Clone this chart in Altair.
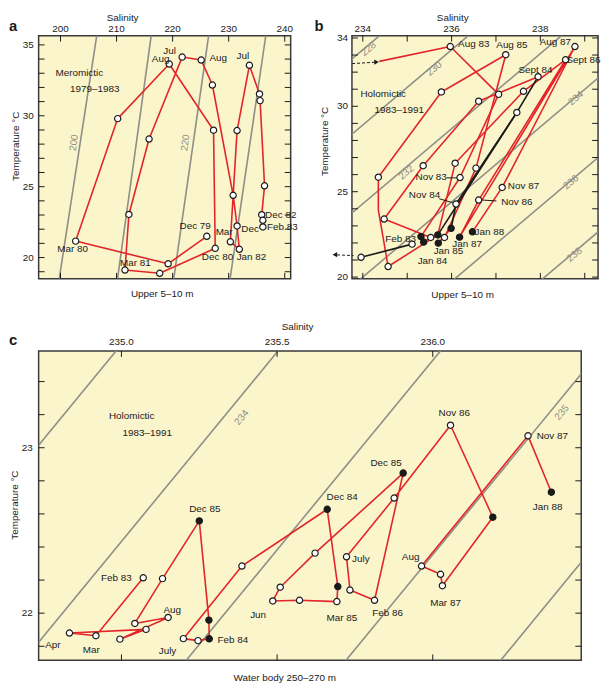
import altair as alt
import pandas as pd

FONT = "Liberation Sans"
FS = 10
RED = "#e3242b"
GREY = "#8e8e86"
INK = "#1a1a1a"
BG = "#fbf5cb"

# ---------------- panel a : upper 5-10 m, meromictic ----------------
A_S = [226.1, 219.2, 202.7, 210.2, 219.4, 227.3, 227.6, 217.7, 211.5, 212.2, 215.8,
       221.7, 225.1, 227.1, 230.8, 231.5, 231.9, 230.3, 231.5, 233.7, 235.5, 235.6,
       236.4, 235.9, 236.1, 236.1]
A_T = [21.5, 19.56, 21.16, 29.8, 33.65, 28.98, 20.65, 18.89, 19.12, 23.04, 28.36,
       34.14, 33.93, 32.17, 24.39, 22.23, 20.58, 21.11, 28.96, 33.56, 31.54, 31.07,
       25.06, 23.02, 22.63, 22.16]
A_LABELS = ["Jul", "Aug", "Aug", "Jul", "Dec 79", "Mar 80", "Mar 81", "Dec 80", "Jan 82",
            "Mar", "Dec", "Dec 82", "Feb 83", "Meromictic", "1979\u20131983"]
A_LABEL_S = [219.45, 217.86, 228.14, 232.54, 224.03, 202.18, 213.34, 228.01, 234.07,
             229.19, 233.83, 239.29, 239.59, 203.35, 206.11]
A_LABEL_T = [34.6, 34.03, 34.09, 34.19, 22.23, 20.63, 19.58, 20.03, 20.03,
             21.77, 22.02, 23.02, 22.16, 33.05, 31.87]
A_ISO_S_LOW = [199.77, 210.17, 220.2, 230.25]
A_ISO_S_HIGH = [206.6, 216.3, 226.55, 236.75]
A_ISO_T = [18.5, 36.0]
A_ISO_LABELS = ["200", "220"]
A_ISO_LABEL_S = [202.4, 222.27]
A_ISO_LABEL_T = [28.1, 28.1]
A_XTICKS = [200, 210, 220, 230, 240]
A_YTICKS = [19, 20, 21, 22, 23, 24, 25, 26, 27, 28, 29, 30, 31, 32, 33, 34, 35]
A_YLABELS = [20, 25, 30, 35]

# ---------------- panel b : upper 5-10 m, holomictic ----------------
B_S = [234.37, 235.97, 237.06, 236.19, 235.31, 235.37, 235.53, 234.48, 235.36, 236.61, 237.95,
       237.47, 236.10, 235.99, 235.70, 235.84, 236.55, 237.22, 235.77, 234.35, 234.35,
       234.57, 235.69, 236.08, 237.62, 238.57, 236.61, 236.18, 238.78, 237.14, 236.47,
       235.11, 233.96]
B_T = [32.63, 33.50, 30.70, 25.83, 22.37, 22.05, 22.32, 23.40, 26.52, 30.30, 31.73,
       29.64, 24.28, 22.86, 21.99, 22.32, 26.38, 33.02, 30.84, 25.85, 23.92,
       20.62, 22.47, 26.67, 30.88, 32.73, 24.51, 22.34, 33.50, 25.25, 22.65,
       21.93, 21.16]
B_MARK = ["none", "open", "open", "open", "filled", "filled", "open", "open", "open", "open", "open",
          "open", "open", "filled", "filled", "open", "open", "open", "open", "open", "none",
          "open", "filled", "open", "open", "open", "open", "filled", "open", "open", "filled",
          "open", "open"]
B_RED_PATHS = [[0, 1, 2, 3, 4, 5, 6, 7, 8, 9, 10],
               [13, 14, 15, 16, 17, 18, 19, 20, 21, 22, 23, 24, 25, 26, 27, 28, 29, 30]]
B_BLACK_PATHS = [[10, 11, 12, 13], [11, 22], [31, 32]]
B_LABELS = ["Aug 83", "Aug 85", "Aug 87", "Sept 86", "Sept 84", "Holomictic", "1983\u20131991",
            "Nov 83", "Nov 84", "Nov 87", "Nov 86", "Jan 88", "Feb 83", "Jan 87", "Jan 85", "Jan 84"]
B_LABEL_S = [236.50, 237.36, 238.34, 238.97, 237.89, 234.46, 234.82,
             235.54, 235.39, 237.62, 237.47, 236.85, 234.85, 236.35, 235.93, 235.57]
B_LABEL_T = [33.65, 33.56, 33.75, 32.69, 32.15, 30.72, 29.80,
             25.84, 24.78, 25.31, 24.40, 22.66, 22.24, 21.93, 21.51, 20.93]
B_CONN_S = [[235.886, 236.146], [235.72, 236.02], [236.70, 237.01]]
B_CONN_T = [[25.81, 25.81], [24.59, 24.36], [24.51, 24.46]]
B_ARROW_S = [[233.76, 234.28], [233.79, 233.42]]
B_ARROW_T = [[32.50, 32.58], [21.26, 21.30]]
B_HEAD_S = [234.31, 233.37]
B_HEAD_T = [32.59, 21.31]
B_HEAD_SHAPE = ["triangle-right", "triangle-left"]
B_ISO_S_LOW = [227.72, 229.72, 231.82, 233.77, 235.89, 237.87]
B_ISO_S_HIGH = [234.77, 236.77, 238.87, 240.82, 242.94, 244.92]
B_ISO_T = [19.5, 35.0]
B_ISO_LABELS = ["228", "230", "232", "234", "236", "238"]
B_ISO_LABEL_S = [234.13, 235.61, 234.98, 238.80, 238.69, 238.77]
B_ISO_LABEL_T = [33.36, 32.20, 26.13, 30.47, 25.56, 21.31]
B_XTICKS = [234, 235, 236, 237, 238, 239]
B_XLABELS = [234, 236, 238]
B_YTICKS = [20, 21, 22, 23, 24, 25, 26, 27, 28, 29, 30, 31, 32, 33, 34]
B_YLABELS = [20, 25, 30, 34]

# ---------------- panel c : water body 250-270 m ----------------
C_S = [235.070, 234.918, 234.833, 235.079, 234.995, 235.150, 235.043, 235.132, 235.250,
       235.281, 235.282, 235.246, 235.199, 235.387, 235.661, 235.695, 235.692, 235.572,
       235.486, 235.510, 235.622, 235.905, 235.813, 235.734, 235.723, 235.876, 236.057,
       236.193, 236.031, 236.025, 235.964, 236.306, 236.381]
C_T = [22.214, 21.864, 21.880, 21.902, 21.843, 21.974, 21.938, 22.209, 22.558,
       21.958, 21.845, 21.834, 21.846, 22.285, 22.628, 22.161, 22.070, 22.078,
       22.074, 22.157, 22.363, 22.847, 22.078, 22.140, 22.341, 22.696, 23.136,
       22.580, 22.166, 22.235, 22.285, 23.072, 22.731]
C_MARK = ["open", "open", "open", "open", "open", "open", "open", "open", "filled",
          "filled", "filled", "open", "open", "open", "filled", "filled", "open", "open",
          "open", "open", "open", "filled", "open", "open", "open", "open", "open",
          "filled", "open", "open", "open", "open", "filled"]
C_LABELS = ["Holomictic", "1983\u20131991", "Dec 85", "Feb 83", "Aug", "Apr", "Mar", "July",
            "Feb 84", "Dec 84", "Jun", "Mar 85", "July", "Feb 86", "Dec 85", "Nov 86",
            "Nov 87", "Jan 88", "Aug", "Mar 87"]
C_LABEL_S = [235.033, 235.083, 235.268, 234.984, 235.163, 234.78, 234.903, 235.148,
             235.358, 235.709, 235.439, 235.708, 235.769, 235.855, 235.85, 236.069,
             236.384, 236.369, 235.929, 236.041]
C_LABEL_T = [23.19, 23.09, 22.63, 22.21, 22.02, 21.81, 21.78, 21.77,
             21.84, 22.70, 21.99, 21.97, 22.33, 22.00, 22.91, 23.21,
             23.07, 22.64, 22.34, 22.06]
C_ISO_S_LOW = [234.116, 234.636, 235.158, 235.671, 236.168]
C_ISO_S_HIGH = [235.033, 235.553, 236.075, 236.588, 237.085]
C_ISO_T = [21.6, 23.7]
C_ISO_LABELS = ["234", "235"]
C_ISO_LABEL_S = [235.386, 236.415]
C_ISO_LABEL_T = [23.183, 23.213]
C_XTICKS = [235.0, 235.5, 236.0]
C_YTICKS = [21.8, 22.0, 22.2, 22.4, 22.6, 22.8, 23.0, 23.2, 23.4]
C_YLABELS = [22, 23]


# ---------------- helpers ----------------
def sc(domain):
    return alt.Scale(domain=domain, nice=False, zero=False)


def iso_layer(s_low, s_high, t_pair, xs, ys):
    rows = []
    for k, (a, b) in enumerate(zip(s_low, s_high)):
        rows.append({"k": k, "S": a, "T": t_pair[0]})
        rows.append({"k": k, "S": b, "T": t_pair[1]})
    return alt.Chart(pd.DataFrame(rows)).mark_line(color=GREY, strokeWidth=1.6, clip=True).encode(
        x=alt.X("S:Q", scale=xs, axis=None),
        y=alt.Y("T:Q", scale=ys, axis=None),
        detail="k:N",
    )


def tick_layers(xt, yt, xs, ys, w, h, L=6):
    dx = pd.DataFrame({"v": xt})
    dy = pd.DataFrame({"v": yt})
    m = dict(color=INK, strokeWidth=1)
    return [
        alt.Chart(dx).mark_rule(**m).encode(x=alt.X("v:Q", scale=xs, axis=None), y=alt.value(0), y2=alt.value(L)),
        alt.Chart(dx).mark_rule(**m).encode(x=alt.X("v:Q", scale=xs, axis=None), y=alt.value(h - L), y2=alt.value(h)),
        alt.Chart(dy).mark_rule(**m).encode(y=alt.Y("v:Q", scale=ys, axis=None), x=alt.value(0), x2=alt.value(L)),
        alt.Chart(dy).mark_rule(**m).encode(y=alt.Y("v:Q", scale=ys, axis=None), x=alt.value(w - L), x2=alt.value(w)),
    ]


def xlabel_layer(vals, fmt, xs, y):
    return alt.Chart(pd.DataFrame({"v": vals})).mark_text(
        font=FONT, fontSize=FS, color=INK, baseline="middle", clip=False).encode(
        x=alt.X("v:Q", scale=xs, axis=None), y=alt.value(y), text=alt.Text("v:Q", format=fmt))


def ylabel_layer(vals, fmt, ys, x):
    return alt.Chart(pd.DataFrame({"v": vals})).mark_text(
        font=FONT, fontSize=FS, color=INK, baseline="middle", align="right", clip=False).encode(
        y=alt.Y("v:Q", scale=ys, axis=None), x=alt.value(x), text=alt.Text("v:Q", format=fmt))


def text_layer(texts, ss, ts, xs, ys, color=INK, size=FS, angle=0):
    df = pd.DataFrame({"t": texts, "S": ss, "T": ts})
    return alt.Chart(df).mark_text(font=FONT, fontSize=size, color=color, angle=angle, clip=False).encode(
        x=alt.X("S:Q", scale=xs, axis=None), y=alt.Y("T:Q", scale=ys, axis=None), text="t:N")


def path_layer(paths, ss, ts, xs, ys, color):
    rows = []
    for k, p in enumerate(paths):
        for j, i in enumerate(p):
            rows.append({"k": k, "o": j, "S": ss[i], "T": ts[i]})
    return alt.Chart(pd.DataFrame(rows)).mark_line(color=color, strokeWidth=1.6, strokeJoin="round").encode(
        x=alt.X("S:Q", scale=xs, axis=None), y=alt.Y("T:Q", scale=ys, axis=None),
        detail="k:N", order="o:Q")


def point_layer(ss, ts, marks, xs, ys, sizes):
    df = pd.DataFrame({"S": ss, "T": ts, "f": marks})
    df = df[df["f"] != "none"]
    return alt.Chart(df).mark_point(shape="circle", filled=True, stroke=INK, strokeWidth=1.2, opacity=1).encode(
        x=alt.X("S:Q", scale=xs, axis=None), y=alt.Y("T:Q", scale=ys, axis=None),
        fill=alt.Fill("f:N", scale=alt.Scale(domain=["open", "filled"], range=["white", INK]), legend=None),
        size=alt.Size("f:N", scale=alt.Scale(domain=["open", "filled"], range=sizes), legend=None),
    )


def ptext(txt, x, y, size=FS, angle=0, weight="normal", align="center", baseline="middle"):
    return alt.Chart(alt.Data(values=[{"t": txt}])).mark_text(
        font=FONT, fontSize=size, angle=angle, fontWeight=weight, align=align,
        baseline=baseline, color=INK, clip=False,
    ).encode(x=alt.value(x), y=alt.value(y), text="t:N")


# ---------------- panel a ----------------
AW, AH = 255, 246
axs, ays = sc([196.1, 241.06]), sc([18.5, 35.65])
a_layers = [iso_layer(A_ISO_S_LOW, A_ISO_S_HIGH, A_ISO_T, axs, ays),
            text_layer(A_ISO_LABELS, A_ISO_LABEL_S, A_ISO_LABEL_T, axs, ays, color=GREY, angle=278)]
a_layers += tick_layers(A_XTICKS, A_YTICKS, axs, ays, AW, AH)
a_layers += [xlabel_layer(A_XTICKS, "d", axs, -6.5),
             ylabel_layer(A_YLABELS, "d", ays, -5),
             path_layer([list(range(len(A_S)))], A_S, A_T, axs, ays, RED),
             point_layer(A_S, A_T, ["open"] * len(A_S), axs, ays, [40, 40]),
             text_layer(A_LABELS, A_LABEL_S, A_LABEL_T, axs, ays),
             ptext("a", -30, -10, size=15, weight="bold", align="left"),
             ptext("Salinity", 85, -23, baseline="top"),
             ptext("Temperature \u00b0C", -23, 112, angle=270),
             ptext("Upper 5\u201310 m", 125, 261)]
A = alt.layer(*a_layers).properties(width=AW, height=AH)

# ---------------- panel b ----------------
BW, BH = 249, 246
bxs, bys = sc([233.755, 239.3]), sc([19.9, 34.134])
b_layers = [iso_layer(B_ISO_S_LOW, B_ISO_S_HIGH, B_ISO_T, bxs, bys),
            text_layer(B_ISO_LABELS, B_ISO_LABEL_S, B_ISO_LABEL_T, bxs, bys, color=GREY, angle=320)]
b_layers += tick_layers(B_XTICKS, B_YTICKS, bxs, bys, BW, BH)
conn_rows = []
for k, (ss, ts) in enumerate(zip(B_CONN_S, B_CONN_T)):
    for j in range(2):
        conn_rows.append({"k": k, "S": ss[j], "T": ts[j]})
arrow_rows = []
for k, (ss, ts) in enumerate(zip(B_ARROW_S, B_ARROW_T)):
    for j in range(2):
        arrow_rows.append({"k": k, "S": ss[j], "T": ts[j]})
b_layers += [
    xlabel_layer(B_XLABELS, "d", bxs, -6.5),
    ylabel_layer(B_YLABELS, "d", bys, -4),
    path_layer(B_RED_PATHS, B_S, B_T, bxs, bys, RED),
    path_layer(B_BLACK_PATHS, B_S, B_T, bxs, bys, INK),
    alt.Chart(pd.DataFrame(conn_rows)).mark_line(color=INK, strokeWidth=1).encode(
        x=alt.X("S:Q", scale=bxs, axis=None), y=alt.Y("T:Q", scale=bys, axis=None), detail="k:N"),
    alt.Chart(pd.DataFrame(arrow_rows)).mark_line(color=INK, strokeWidth=1, strokeDash=[3, 2], clip=False).encode(
        x=alt.X("S:Q", scale=bxs, axis=None), y=alt.Y("T:Q", scale=bys, axis=None), detail="k:N"),
    alt.Chart(pd.DataFrame({"S": B_HEAD_S, "T": B_HEAD_T, "sh": B_HEAD_SHAPE})).mark_point(
        filled=True, color=INK, size=28, opacity=1, clip=False).encode(
        x=alt.X("S:Q", scale=bxs, axis=None), y=alt.Y("T:Q", scale=bys, axis=None),
        shape=alt.Shape("sh:N", scale=None)),
    point_layer(B_S, B_T, B_MARK, bxs, bys, [36, 44]),
    text_layer(B_LABELS, B_LABEL_S, B_LABEL_T, bxs, bys),
    ptext("b", -38, -10, size=15, weight="bold", align="left"),
    ptext("Salinity", 102, -23, baseline="top"),
    ptext("Temperature \u00b0C", -27, 107, angle=270),
    ptext("Upper 5\u201310 m", 112, 262),
]
B = alt.layer(*b_layers).properties(width=BW, height=BH)

# ---------------- panel c ----------------
CW, CH = 549, 313
cxs, cys = sc([234.734, 236.477]), sc([21.715, 23.585])
c_layers = [iso_layer(C_ISO_S_LOW, C_ISO_S_HIGH, C_ISO_T, cxs, cys),
            text_layer(C_ISO_LABELS, C_ISO_LABEL_S, C_ISO_LABEL_T, cxs, cys, color=GREY, angle=309)]
c_layers += tick_layers(C_XTICKS, C_YTICKS, cxs, cys, CW, CH)
c_layers += [xlabel_layer(C_XTICKS, ".1f", cxs, -9),
             ylabel_layer(C_YLABELS, "d", cys, -6),
             path_layer([list(range(len(C_S)))], C_S, C_T, cxs, cys, RED),
             point_layer(C_S, C_T, C_MARK, cxs, cys, [44, 58]),
             text_layer(C_LABELS, C_LABEL_S, C_LABEL_T, cxs, cys),
             ptext("c", -30, -11, size=15, weight="bold", align="left"),
             ptext("Salinity", 262, -24),
             ptext("Temperature \u00b0C", -24, 156, angle=270),
             ptext("Water body 250\u2013270 m", 249, 331)]
C = alt.layer(*c_layers).properties(width=CW, height=CH)

chart = alt.vconcat(
    alt.hconcat(A, B, spacing=62, bounds="flush"),
    C,
    spacing=21,
).properties(padding=0).configure_view(fill=BG, stroke="#3a3a3a", strokeWidth=1.5)

chart.save("out.html", embed_options={"renderer": "svg", "actions": False})
